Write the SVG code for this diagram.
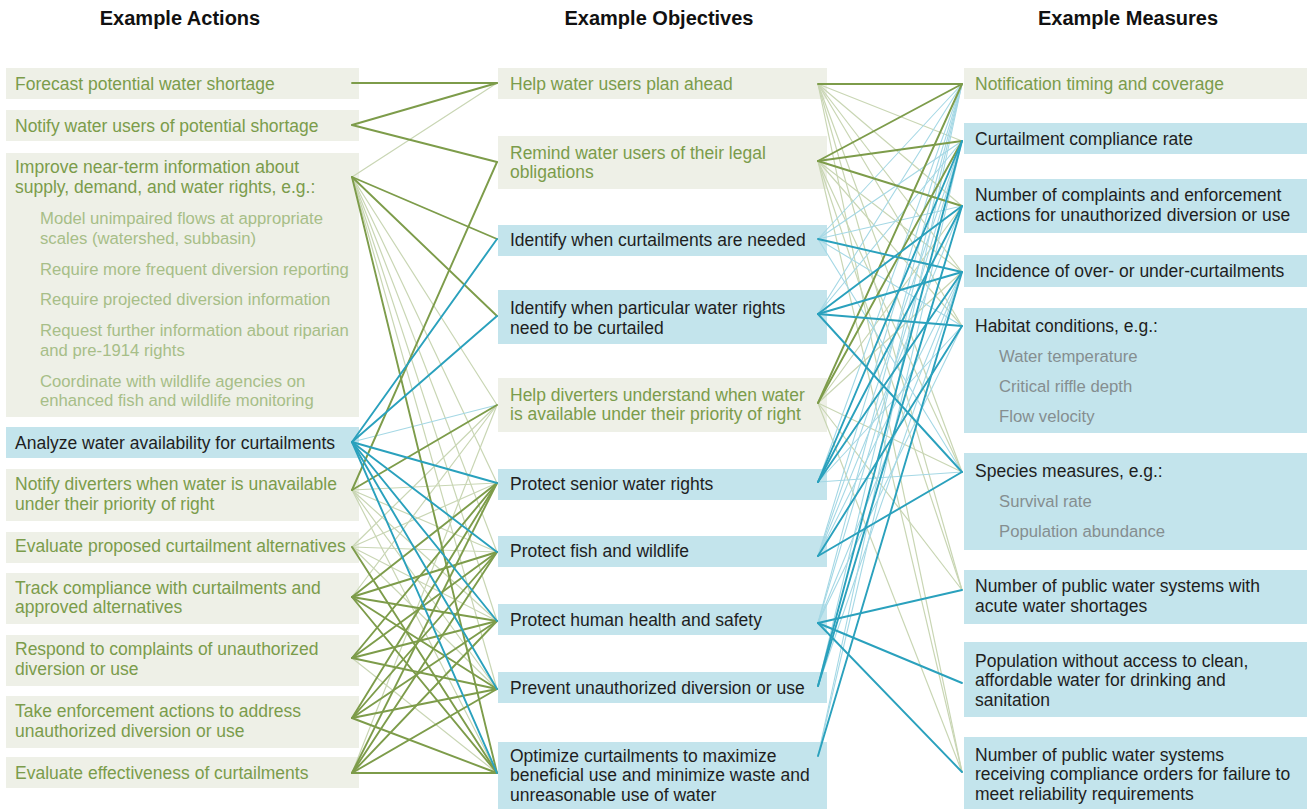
<svg xmlns="http://www.w3.org/2000/svg" width="1307" height="809" viewBox="0 0 1307 809">
  <style>
    text { font-family: "Liberation Sans", Arial, sans-serif; }
    .title { font-size: 20px; font-weight: bold; fill: #111; text-anchor: middle; }
    .gbox { fill: #eef0e7; }
    .bbox { fill: #c3e4ec; }
    .gtx { font-size: 17.5px; fill: #7b9c4b; }
    .gsub { font-size: 16.7px; fill: #a7be88; }
    .btx { font-size: 17.5px; fill: #1e1e1e; }
    .bsub { font-size: 16.7px; fill: #858e90; }
    .gt { stroke: #c9d6b4; stroke-width: 1.2; }
    .bt { stroke: #a5d8e5; stroke-width: 1.1; }
    .gT { stroke: #7d9c4a; stroke-width: 1.9; }
    .bT { stroke: #2aa1bd; stroke-width: 1.9; }
  </style>

  <!-- column headings -->
  <text class="title" x="180" y="25">Example Actions</text>
  <text class="title" x="659" y="25">Example Objectives</text>
  <text class="title" x="1128" y="25">Example Measures</text>

  <!-- actions -->
  <g id="action-forecast"><rect class="gbox" x="6" y="68" width="353" height="31"/>
    <text class="gtx" x="15" y="89.5">Forecast potential water shortage</text></g>
  <g id="action-notify-users"><rect class="gbox" x="6" y="110" width="353" height="31"/>
    <text class="gtx" x="15" y="131.5">Notify water users of potential shortage</text></g>
  <g id="action-improve-info"><rect class="gbox" x="6" y="153" width="353" height="264"/>
    <text class="gtx" x="15" y="173">Improve near-term information about</text>
    <text class="gtx" x="15" y="193">supply, demand, and water rights, e.g.:</text>
    <text class="gsub" x="40" y="224">Model unimpaired flows at appropriate</text>
    <text class="gsub" x="40" y="243.5">scales (watershed, subbasin)</text>
    <text class="gsub" x="40" y="274.5">Require more frequent diversion reporting</text>
    <text class="gsub" x="40" y="305">Require projected diversion information</text>
    <text class="gsub" x="40" y="335.5">Request further information about riparian</text>
    <text class="gsub" x="40" y="355.5">and pre-1914 rights</text>
    <text class="gsub" x="40" y="386.5">Coordinate with wildlife agencies on</text>
    <text class="gsub" x="40" y="406">enhanced fish and wildlife monitoring</text></g>
  <g id="action-analyze"><rect class="bbox" x="6" y="427" width="353" height="31"/>
    <text class="btx" x="15" y="448.5">Analyze water availability for curtailments</text></g>
  <g id="action-notify-diverters"><rect class="gbox" x="6" y="469" width="353" height="52"/>
    <text class="gtx" x="15" y="490">Notify diverters when water is unavailable</text>
    <text class="gtx" x="15" y="509.5">under their priority of right</text></g>
  <g id="action-evaluate-alternatives"><rect class="gbox" x="6" y="532" width="353" height="31"/>
    <text class="gtx" x="15" y="552">Evaluate proposed curtailment alternatives</text></g>
  <g id="action-track"><rect class="gbox" x="6" y="573" width="353" height="51"/>
    <text class="gtx" x="15" y="593.5">Track compliance with curtailments and</text>
    <text class="gtx" x="15" y="613">approved alternatives</text></g>
  <g id="action-respond"><rect class="gbox" x="6" y="635" width="353" height="51"/>
    <text class="gtx" x="15" y="655">Respond to complaints of unauthorized</text>
    <text class="gtx" x="15" y="675">diversion or use</text></g>
  <g id="action-enforce"><rect class="gbox" x="6" y="696" width="353" height="52"/>
    <text class="gtx" x="15" y="717">Take enforcement actions to address</text>
    <text class="gtx" x="15" y="737">unauthorized diversion or use</text></g>
  <g id="action-evaluate-effectiveness"><rect class="gbox" x="6" y="757" width="353" height="31"/>
    <text class="gtx" x="15" y="778.5">Evaluate effectiveness of curtailments</text></g>

  <!-- objectives -->
  <g id="obj-plan"><rect class="gbox" x="498" y="68" width="329" height="31"/>
    <text class="gtx" x="510" y="89.5">Help water users plan ahead</text></g>
  <g id="obj-remind"><rect class="gbox" x="498" y="136" width="329" height="53"/>
    <text class="gtx" x="510" y="158.5">Remind water users of their legal</text>
    <text class="gtx" x="510" y="178">obligations</text></g>
  <g id="obj-when-needed"><rect class="bbox" x="498" y="225" width="329" height="31"/>
    <text class="btx" x="510" y="245.5">Identify when curtailments are needed</text></g>
  <g id="obj-which-rights"><rect class="bbox" x="498" y="290" width="329" height="54"/>
    <text class="btx" x="510" y="314">Identify when particular water rights</text>
    <text class="btx" x="510" y="333.5">need to be curtailed</text></g>
  <g id="obj-help-diverters"><rect class="gbox" x="498" y="378" width="329" height="54"/>
    <text class="gtx" x="510" y="401">Help diverters understand when water</text>
    <text class="gtx" x="510" y="420">is available under their priority of right</text></g>
  <g id="obj-senior"><rect class="bbox" x="498" y="469" width="329" height="31"/>
    <text class="btx" x="510" y="489.5">Protect senior water rights</text></g>
  <g id="obj-fish"><rect class="bbox" x="498" y="536" width="329" height="31"/>
    <text class="btx" x="510" y="557">Protect fish and wildlife</text></g>
  <g id="obj-health"><rect class="bbox" x="498" y="604" width="329" height="31"/>
    <text class="btx" x="510" y="625.5">Protect human health and safety</text></g>
  <g id="obj-prevent"><rect class="bbox" x="498" y="672" width="329" height="31"/>
    <text class="btx" x="510" y="694">Prevent unauthorized diversion or use</text></g>
  <g id="obj-optimize"><rect class="bbox" x="498" y="742" width="329" height="67"/>
    <text class="btx" x="510" y="762">Optimize curtailments to maximize</text>
    <text class="btx" x="510" y="781">beneficial use and minimize waste and</text>
    <text class="btx" x="510" y="800.5">unreasonable use of water</text></g>

  <!-- measures -->
  <g id="measure-notification"><rect class="gbox" x="964" y="68" width="343" height="31"/>
    <text class="gtx" x="975" y="89.5">Notification timing and coverage</text></g>
  <g id="measure-compliance"><rect class="bbox" x="964" y="123" width="343" height="31"/>
    <text class="btx" x="975" y="145">Curtailment compliance rate</text></g>
  <g id="measure-complaints"><rect class="bbox" x="964" y="179" width="343" height="54"/>
    <text class="btx" x="975" y="201">Number of complaints and enforcement</text>
    <text class="btx" x="975" y="221">actions for unauthorized diversion or use</text></g>
  <g id="measure-over-under"><rect class="bbox" x="964" y="255" width="343" height="32"/>
    <text class="btx" x="975" y="277">Incidence of over- or under-curtailments</text></g>
  <g id="measure-habitat"><rect class="bbox" x="964" y="308" width="343" height="125"/>
    <text class="btx" x="975" y="332">Habitat conditions, e.g.:</text>
    <text class="bsub" x="999" y="362">Water temperature</text>
    <text class="bsub" x="999" y="392">Critical riffle depth</text>
    <text class="bsub" x="999" y="422">Flow velocity</text></g>
  <g id="measure-species"><rect class="bbox" x="964" y="453" width="343" height="97"/>
    <text class="btx" x="975" y="477">Species measures, e.g.:</text>
    <text class="bsub" x="999" y="507">Survival rate</text>
    <text class="bsub" x="999" y="537">Population abundance</text></g>
  <g id="measure-acute"><rect class="bbox" x="964" y="570" width="343" height="54"/>
    <text class="btx" x="975" y="592">Number of public water systems with</text>
    <text class="btx" x="975" y="612">acute water shortages</text></g>
  <g id="measure-access"><rect class="bbox" x="964" y="642" width="343" height="75"/>
    <text class="btx" x="975" y="667">Population without access to clean,</text>
    <text class="btx" x="975" y="686">affordable water for drinking and</text>
    <text class="btx" x="975" y="705.5">sanitation</text></g>
  <g id="measure-orders"><rect class="bbox" x="964" y="737" width="343" height="72"/>
    <text class="btx" x="975" y="761">Number of public water systems</text>
    <text class="btx" x="975" y="780">receiving compliance orders for failure to</text>
    <text class="btx" x="975" y="799.5">meet reliability requirements</text></g>

  <!-- connectors: actions to objectives, objectives to measures -->
  <g id="connectors" fill="none" stroke-linecap="round">
    <!-- weak links, actions -> objectives -->
    <line class="gt" x1="352" y1="177" x2="497" y2="83"/>
    <line class="gt" x1="352" y1="177" x2="497" y2="405"/>
    <line class="gt" x1="352" y1="177" x2="497" y2="483"/>
    <line class="gt" x1="352" y1="177" x2="497" y2="552"/>
    <line class="gt" x1="352" y1="177" x2="497" y2="621"/>
    <line class="gt" x1="352" y1="177" x2="497" y2="689"/>
    <line class="bt" x1="352" y1="442" x2="497" y2="405"/>
    <line class="gt" x1="352" y1="490" x2="497" y2="483"/>
    <line class="gt" x1="352" y1="490" x2="497" y2="552"/>
    <line class="gt" x1="352" y1="490" x2="497" y2="621"/>
    <line class="gt" x1="352" y1="490" x2="497" y2="689"/>
    <line class="gt" x1="352" y1="490" x2="497" y2="773"/>
    <line class="gt" x1="352" y1="547" x2="497" y2="405"/>
    <line class="gt" x1="352" y1="547" x2="497" y2="483"/>
    <line class="gt" x1="352" y1="547" x2="497" y2="552"/>
    <line class="gt" x1="352" y1="547" x2="497" y2="621"/>
    <line class="gt" x1="352" y1="547" x2="497" y2="689"/>
    <line class="gt" x1="352" y1="597" x2="497" y2="405"/>
    <line class="gt" x1="352" y1="658" x2="497" y2="773"/>
    <line class="gt" x1="352" y1="773" x2="497" y2="405"/>

    <!-- weak links, objectives -> measures -->
    <line class="gt" x1="818" y1="84" x2="962" y2="141"/>
    <line class="gt" x1="818" y1="84" x2="962" y2="206"/>
    <line class="gt" x1="818" y1="84" x2="962" y2="272"/>
    <line class="gt" x1="818" y1="84" x2="962" y2="326"/>
    <line class="gt" x1="818" y1="84" x2="962" y2="472"/>
    <line class="gt" x1="818" y1="84" x2="962" y2="590"/>
    <line class="gt" x1="818" y1="84" x2="962" y2="772"/>
    <line class="gt" x1="818" y1="161" x2="962" y2="272"/>
    <line class="gt" x1="818" y1="161" x2="962" y2="326"/>
    <line class="gt" x1="818" y1="161" x2="962" y2="472"/>
    <line class="gt" x1="818" y1="161" x2="962" y2="590"/>
    <line class="gt" x1="818" y1="161" x2="962" y2="772"/>
    <line class="gt" x1="818" y1="403" x2="962" y2="206"/>
    <line class="gt" x1="818" y1="403" x2="962" y2="272"/>
    <line class="gt" x1="818" y1="403" x2="962" y2="472"/>
    <line class="gt" x1="818" y1="403" x2="962" y2="590"/>
    <line class="gt" x1="818" y1="403" x2="962" y2="772"/>
    <line class="bt" x1="818" y1="239" x2="962" y2="84"/>
    <line class="bt" x1="818" y1="239" x2="962" y2="141"/>
    <line class="bt" x1="818" y1="239" x2="962" y2="206"/>
    <line class="bt" x1="818" y1="239" x2="962" y2="326"/>
    <line class="bt" x1="818" y1="239" x2="962" y2="472"/>
    <line class="bt" x1="818" y1="314" x2="962" y2="84"/>
    <line class="bt" x1="818" y1="314" x2="962" y2="141"/>
    <line class="bt" x1="818" y1="482" x2="962" y2="84"/>
    <line class="bt" x1="818" y1="482" x2="962" y2="326"/>
    <line class="bt" x1="818" y1="482" x2="962" y2="472"/>
    <line class="bt" x1="818" y1="556" x2="962" y2="84"/>
    <line class="bt" x1="818" y1="556" x2="962" y2="141"/>
    <line class="bt" x1="818" y1="556" x2="962" y2="206"/>
    <line class="bt" x1="818" y1="556" x2="962" y2="272"/>
    <line class="bt" x1="818" y1="623" x2="962" y2="84"/>
    <line class="bt" x1="818" y1="623" x2="962" y2="141"/>
    <line class="bt" x1="818" y1="623" x2="962" y2="272"/>
    <line class="bt" x1="818" y1="623" x2="962" y2="326"/>
    <line class="bt" x1="818" y1="686" x2="962" y2="84"/>
    <line class="bt" x1="818" y1="686" x2="962" y2="272"/>
    <line class="bt" x1="818" y1="756" x2="962" y2="84"/>
    <line class="bt" x1="818" y1="756" x2="962" y2="141"/>

    <!-- strong links, actions -> objectives -->
    <line class="gT" x1="352" y1="83" x2="497" y2="83"/>
    <line class="gT" x1="352" y1="125" x2="497" y2="83"/>
    <line class="gT" x1="352" y1="125" x2="497" y2="162"/>
    <line class="gT" x1="352" y1="177" x2="497" y2="239"/>
    <line class="gT" x1="352" y1="177" x2="497" y2="316"/>
    <line class="gT" x1="352" y1="177" x2="497" y2="773"/>
    <line class="gT" x1="352" y1="490" x2="497" y2="162"/>
    <line class="gT" x1="352" y1="490" x2="497" y2="405"/>
    <line class="gT" x1="352" y1="547" x2="497" y2="773"/>
    <line class="gT" x1="352" y1="597" x2="497" y2="483"/>
    <line class="gT" x1="352" y1="597" x2="497" y2="552"/>
    <line class="gT" x1="352" y1="597" x2="497" y2="621"/>
    <line class="gT" x1="352" y1="597" x2="497" y2="689"/>
    <line class="gT" x1="352" y1="597" x2="497" y2="773"/>
    <line class="gT" x1="352" y1="658" x2="497" y2="483"/>
    <line class="gT" x1="352" y1="658" x2="497" y2="552"/>
    <line class="gT" x1="352" y1="658" x2="497" y2="621"/>
    <line class="gT" x1="352" y1="658" x2="497" y2="689"/>
    <line class="gT" x1="352" y1="718" x2="497" y2="483"/>
    <line class="gT" x1="352" y1="718" x2="497" y2="552"/>
    <line class="gT" x1="352" y1="718" x2="497" y2="621"/>
    <line class="gT" x1="352" y1="718" x2="497" y2="689"/>
    <line class="gT" x1="352" y1="718" x2="497" y2="773"/>
    <line class="gT" x1="352" y1="773" x2="497" y2="483"/>
    <line class="gT" x1="352" y1="773" x2="497" y2="552"/>
    <line class="gT" x1="352" y1="773" x2="497" y2="621"/>
    <line class="gT" x1="352" y1="773" x2="497" y2="689"/>
    <line class="gT" x1="352" y1="773" x2="497" y2="773"/>
    <line class="bT" x1="352" y1="442" x2="497" y2="239"/>
    <line class="bT" x1="352" y1="442" x2="497" y2="316"/>
    <line class="bT" x1="352" y1="442" x2="497" y2="483"/>
    <line class="bT" x1="352" y1="442" x2="497" y2="552"/>
    <line class="bT" x1="352" y1="442" x2="497" y2="621"/>
    <line class="bT" x1="352" y1="442" x2="497" y2="689"/>
    <line class="bT" x1="352" y1="442" x2="497" y2="773"/>

    <!-- strong links, objectives -> measures -->
    <line class="gT" x1="818" y1="84" x2="962" y2="84"/>
    <line class="gT" x1="818" y1="161" x2="962" y2="84"/>
    <line class="gT" x1="818" y1="161" x2="962" y2="141"/>
    <line class="gT" x1="818" y1="161" x2="962" y2="206"/>
    <line class="gT" x1="818" y1="403" x2="962" y2="84"/>
    <line class="gT" x1="818" y1="403" x2="962" y2="141"/>
    <line class="bT" x1="818" y1="239" x2="962" y2="272"/>
    <line class="bT" x1="818" y1="314" x2="962" y2="206"/>
    <line class="bT" x1="818" y1="314" x2="962" y2="272"/>
    <line class="bT" x1="818" y1="314" x2="962" y2="326"/>
    <line class="bT" x1="818" y1="314" x2="962" y2="472"/>
    <line class="bT" x1="818" y1="482" x2="962" y2="141"/>
    <line class="bT" x1="818" y1="482" x2="962" y2="206"/>
    <line class="bT" x1="818" y1="482" x2="962" y2="272"/>
    <line class="bT" x1="818" y1="556" x2="962" y2="326"/>
    <line class="bT" x1="818" y1="556" x2="962" y2="472"/>
    <line class="bT" x1="818" y1="623" x2="962" y2="590"/>
    <line class="bT" x1="818" y1="623" x2="962" y2="683"/>
    <line class="bT" x1="818" y1="623" x2="962" y2="772"/>
    <line class="bT" x1="818" y1="686" x2="962" y2="141"/>
    <line class="bT" x1="818" y1="686" x2="962" y2="206"/>
    <line class="bT" x1="818" y1="756" x2="962" y2="272"/>
  </g>
</svg>
